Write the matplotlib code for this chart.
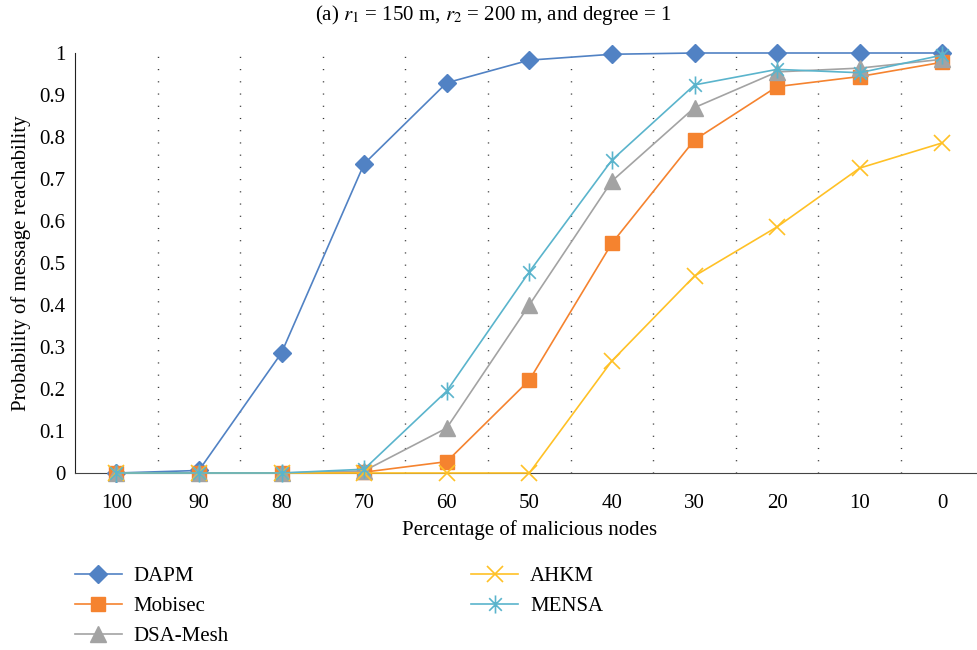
import matplotlib.pyplot as plt
from matplotlib.path import Path

plt.rcParams['font.family'] = ['Liberation Serif', 'DejaVu Serif']
plt.rcParams['mathtext.fontset'] = 'stix'

cats = ['100', '90', '80', '70', '60', '50', '40', '30', '20', '10', '0']
dapm = [0.0, 0.006, 0.286, 0.736, 0.929, 0.983, 0.997, 1.0, 1.0, 1.0, 1.0]
mobisec = [0.0, 0.0, 0.0, 0.002, 0.027, 0.221, 0.547, 0.793, 0.920, 0.944, 0.978]
dsa = [0.0, 0.0, 0.0, 0.005, 0.107, 0.400, 0.695, 0.870, 0.955, 0.964, 0.985]
ahkm = [0.0, 0.0, 0.0, 0.0, 0.0, 0.0, 0.267, 0.469, 0.586, 0.726, 0.786]
mensa = [0.0, 0.0, 0.0, 0.009, 0.195, 0.479, 0.745, 0.924, 0.961, 0.953, 0.995]

# excel style star: X plus vertical bar
star = Path([(-0.7, -0.7), (0.7, 0.7), (-0.7, 0.7), (0.7, -0.7), (0, -1), (0, 1)],
            [Path.MOVETO, Path.LINETO, Path.MOVETO, Path.LINETO, Path.MOVETO, Path.LINETO])

fig = plt.figure(figsize=(9.77, 6.5), dpi=100)
ax = fig.add_axes([75/977, 1-473/650, 908.6/977, 420/650])

x = list(range(len(cats)))
ax.plot(x, dapm, color='#5182C4', lw=1.2, marker='D', ms=9, label='DAPM', clip_on=False, zorder=3)
ax.plot(x, mobisec, color='#F5832F', lw=1.2, marker='s', ms=10, label='Mobisec', clip_on=False, zorder=3)
ax.plot(x, dsa, color='#A3A3A3', lw=1.2, marker='^', ms=11, label='DSA-Mesh', clip_on=False, zorder=3)
ax.plot(x, ahkm, color='#FFC126', lw=1.2, marker='x', ms=12, mew=1.2, label='AHKM', clip_on=False, zorder=3)
ax.plot(x, mensa, color='#5AB4CC', lw=1.2, marker=star, ms=13, mew=1.2, label='MENSA', clip_on=False, zorder=3)

ax.set_xlim(-0.5, 10.5)
ax.set_ylim(0, 1)
ax.set_xticks(x)
ax.set_xticklabels(cats)
ax.set_yticks([i/10 for i in range(11)])
ax.set_yticklabels(['0'] + ['0.%d' % i for i in range(1, 10)] + ['1'])
ax.set_xticks([i + 0.5 for i in range(10)], minor=True)
ax.grid(True, which='minor', axis='x', color='#333333', lw=1, linestyle=(0, (0.8, 8)))
ax.tick_params(axis='both', which='both', length=0, labelsize=15)
ax.tick_params(axis='x', pad=15)
ax.tick_params(axis='y', pad=7)
for s in ['top', 'right']:
    ax.spines[s].set_visible(False)
ax.spines['left'].set_color('#222222')
ax.spines['bottom'].set_color('#444444')

ax.set_xlabel('Percentage of malicious nodes', fontsize=15, labelpad=5)
ax.set_ylabel('Probability of message reachability', fontsize=15, labelpad=6)

fig.text(0.505, 0.977, r'(a) $r_1$ = 150 m, $r_2$ = 200 m, and degree = 1', ha='center', va='center', fontsize=15)

fig.legend(loc='upper left', bbox_to_anchor=(56/977, 1-548/650), ncol=2, frameon=False,
           fontsize=15, handlelength=2.25, handletextpad=0.58, columnspacing=11.63, labelspacing=0.5)

fig.savefig('out.png', dpi=100)
